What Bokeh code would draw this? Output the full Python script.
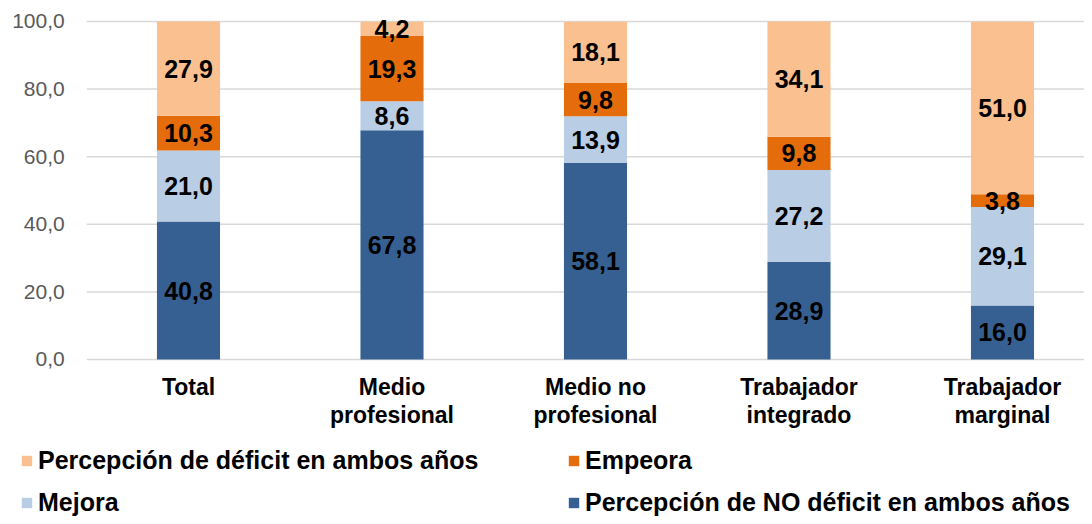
from bokeh.plotting import figure
from bokeh.models import Range1d, Legend, LegendItem, ColumnDataSource
from bokeh.embed import file_html
from bokeh.resources import INLINE
from bokeh.core.properties import value

# ---- data ----
categories = ["Total", "Medio\nprofesional", "Medio no\nprofesional",
              "Trabajador\nintegrado", "Trabajador\nmarginal"]
no_deficit = [40.8, 67.8, 58.1, 28.9, 16.0]
mejora = [21.0, 8.6, 13.9, 27.2, 29.1]
empeora = [10.3, 19.3, 9.8, 9.8, 3.8]
deficit = [27.9, 4.2, 18.1, 34.1, 51.0]
series_names = ["Percepción de NO déficit en ambos años", "Mejora", "Empeora",
                "Percepción de déficit en ambos años"]
y_ticks = [0, 20, 40, 60, 80, 100]

# ---- styles / layout ----
colors = ["#376092", "#B9CDE5", "#E46C0A", "#FAC090"]
FONT = "Liberation Sans"
W, H = 1084, 516
X_RANGE = (-0.9238, 4.403)
Y_RANGE = (-46.45, 106.213)

series = [no_deficit, mejora, empeora, deficit]
keys = ["s0", "s1", "s2", "s3"]
xs = list(range(len(categories)))
data = {"x": xs}
for k, s in zip(keys, series):
    data[k] = s
source = ColumnDataSource(data)

p = figure(width=W, height=H,
           x_range=Range1d(*X_RANGE), y_range=Range1d(*Y_RANGE),
           x_axis_type=None, y_axis_type=None,
           output_backend="svg", toolbar_location=None, min_border=0)
p.outline_line_color = None
p.background_fill_color = "white"
p.border_fill_color = "white"
p.grid.visible = False

# horizontal gridlines at the value ticks
n = len(categories)
p.segment(x0=[-0.5] * len(y_ticks), x1=[n - 0.5] * len(y_ticks), y0=y_ticks, y1=y_ticks,
          line_color="#D9D9D9", line_width=1.5, level="underlay")

# y tick labels
p.text(x=[-0.5] * len(y_ticks), y=y_ticks,
       text=[f"{t:.1f}".replace(".", ",") for t in y_ticks],
       x_offset=-22, text_align="right", text_baseline="middle",
       text_font=value(FONT), text_font_size="21px", text_color="#595959")

# stacked bars
renderers = p.vbar_stack(keys, x="x", width=0.31, color=colors, line_color=None,
                         source=source)

# data labels
lx, ly, lt = [], [], []
bottoms = [0.0] * n
for s in series:
    for i, v in enumerate(s):
        lx.append(xs[i])
        ly.append(bottoms[i] + v / 2)
        lt.append(f"{v:.1f}".replace(".", ","))
        bottoms[i] += v
p.text(x=lx, y=ly, text=lt, text_align="center", text_baseline="middle",
       text_font=value(FONT), text_font_style="bold", text_font_size="25px",
       text_color="black")

# category labels
p.text(x=xs, y=[0] * n, text=categories, y_offset=15,
       text_align="center", text_baseline="top", text_line_height=1.05,
       text_font=value(FONT), text_font_style="bold", text_font_size="23px",
       text_color="black")

# legend: (series index, left px, bottom-offset px)
legend_layout = [(3, 20, 41), (2, 567, 41), (1, 20, -1), (0, 567, -1)]
for idx, lxo, lyo in legend_layout:
    leg = Legend(items=[LegendItem(label=series_names[idx], renderers=[renderers[idx]])],
                 location=(lxo, lyo), orientation="horizontal",
                 glyph_width=13, glyph_height=13, label_standoff=5,
                 padding=0, spacing=0, margin=0,
                 border_line_color=None, background_fill_alpha=0,
                 label_text_font=FONT, label_text_font_style="bold",
                 label_text_font_size="25px", label_text_color="black")
    p.add_layout(leg)

open("out.html", "w").write(file_html(p, INLINE))
